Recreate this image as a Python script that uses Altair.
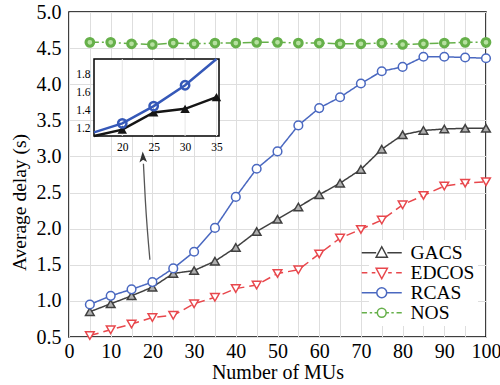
import altair as alt
import pandas as pd

# ---------------- data ----------------
mus = [5, 10, 15, 20, 25, 30, 35, 40, 45, 50, 55, 60, 65, 70, 75, 80, 85, 90, 95, 100]
gacs = [0.85, 0.96, 1.07, 1.19, 1.38, 1.42, 1.55, 1.74, 1.96, 2.13, 2.30, 2.47, 2.63, 2.82, 3.10, 3.30, 3.36, 3.38, 3.39, 3.39]
edcos = [0.52, 0.60, 0.68, 0.77, 0.80, 0.96, 1.05, 1.17, 1.22, 1.38, 1.43, 1.65, 1.87, 1.99, 2.12, 2.33, 2.46, 2.59, 2.63, 2.65]
rcas = [0.95, 1.07, 1.16, 1.26, 1.45, 1.68, 2.01, 2.44, 2.83, 3.07, 3.43, 3.67, 3.82, 4.01, 4.18, 4.24, 4.38, 4.38, 4.37, 4.36]
nos = [4.58, 4.58, 4.56, 4.55, 4.57, 4.56, 4.57, 4.57, 4.58, 4.58, 4.57, 4.57, 4.56, 4.56, 4.57, 4.55, 4.56, 4.57, 4.58, 4.58]

series_names = ["GACS", "EDCOS", "RCAS", "NOS"]
series_colors = ["#404040", "#e8474c", "#4a68c0", "#66b04a"]

x_ticks = list(range(0, 101, 5))
y_ticks = [0.5, 1.0, 1.5, 2.0, 2.5, 3.0, 3.5, 4.0, 4.5, 5.0]

inset_x_domain = [15.5, 35.4]
inset_y_domain = [1.12, 1.97]
inset_x_ticks = [20, 25, 30, 35]
inset_y_ticks = [1.2, 1.4, 1.6, 1.8]

arrow_x = [19.4, 18.3, 17.85]
arrow_y = [1.57, 2.40, 2.90]
arrow_tip_x = [17.75]
arrow_tip_y = [2.98]

# ---------------- tables ----------------
rows = []
for name, vals in zip(series_names, [gacs, edcos, rcas, nos]):
    for xv, yv in zip(mus, vals):
        rows.append({"mus": xv, "series": name, "delay": yv})
df = pd.DataFrame(rows)

FONT = "Liberation Serif"
W, H = 417, 325

x_enc = alt.X("mus:Q", scale=alt.Scale(domain=[0, 100], nice=False, zero=False),
              axis=alt.Axis(values=x_ticks, labelExpr="datum.value % 10 == 0 ? datum.label : ''",
                            title="Number of MUs", grid=True, ticks=False, domain=False,
                            labelFontSize=20, labelColor="black", labelPadding=4,
                            titleFontSize=20, titleFontWeight="normal",
                            titleColor="black", titlePadding=1,
                            gridColor="#dedede", gridWidth=1, labelFlush=False))
y_enc = alt.Y("delay:Q", scale=alt.Scale(domain=[0.5, 5.0], nice=False, zero=False),
              axis=alt.Axis(values=y_ticks, format=".1f", title="Average delay (s)", grid=True,
                            ticks=False, domain=False,
                            labelFontSize=20, labelColor="black", labelPadding=8,
                            titleFontSize=19.5, titleFontWeight="normal",
                            titleColor="black", titlePadding=7, titleY=190,
                            gridColor="#dedede", gridWidth=1, labelFlush=False))

styles = {
    "GACS": dict(dash=[1, 0], shape="triangle-up", fill="#b0b0b0", size=75),
    "EDCOS": dict(dash=[9, 5], shape="triangle-down", fill="white", size=75),
    "RCAS": dict(dash=[1, 0], shape="circle", fill="white", size=75),
    "NOS": dict(dash=[9, 3, 2, 3], shape="circle", fill="#b6e0a0", size=60),
}

main_layers = []
for name, color in zip(series_names, series_colors):
    st = styles[name]
    base = alt.Chart(df).transform_filter(alt.datum.series == name)
    main_layers.append(base.mark_line(color=color, strokeWidth=1.5, strokeDash=st["dash"])
                       .encode(x=x_enc, y=y_enc))
    main_layers.append(base.mark_point(shape=st["shape"], filled=True, fill=st["fill"],
                                       stroke=color, strokeWidth=1.5 if name != "NOS" else 3,
                                       size=st["size"], opacity=1)
                       .encode(x=x_enc, y=y_enc))

# arrow
arrow_df = pd.DataFrame({"mus": arrow_x, "delay": arrow_y, "o": [0, 1, 2]})
tip_df = pd.DataFrame({"mus": arrow_tip_x, "delay": arrow_tip_y})
main_layers.append(alt.Chart(arrow_df).mark_line(color="#555555", strokeWidth=1.3, interpolate="monotone")
                   .encode(x=x_enc, y=y_enc, order="o:Q"))
main_layers.append(alt.Chart(tip_df).mark_point(shape="M0,-1L0.6,0.7L0,0.3L-0.6,0.7Z", filled=True,
                                                color="#333333", size=160, angle=357, opacity=1)
                   .encode(x=x_enc, y=y_enc))

# legend (dummy invisible layer carrying line+marker symbols); path unit r = 8 px
legend_paths = [
    "M-2.5,0H-0.7M0.7,0H2.5M0,-0.75L0.7,0.55L-0.7,0.55Z",
    "M-2.5,0H-1.8M-1.25,0H-0.8M0.8,0H1.25M1.8,0H2.5M-0.7,-0.55L0.7,-0.55L0,0.75Z",
    "M-2.5,0H-0.62M0.62,0H2.5M0.62,0A0.62,0.62 0 1,1 -0.62,0A0.62,0.62 0 1,1 0.62,0Z",
    "M-2.5,0H-1.85M-1.5,0H-1.2M-0.9,0H-0.6M0.6,0H0.9M1.2,0H1.5M1.85,0H2.5M0.55,0A0.55,0.55 0 1,1 -0.55,0A0.55,0.55 0 1,1 0.55,0Z",
]
leg = dict(orient="none", legendX=300, legendY=228, title=None,
           labelFontSize=19.5, labelColor="black", labelOffset=19,
           symbolSize=256, symbolStrokeWidth=1.5, symbolFillColor="white", symbolOpacity=1,
           fillColor="white", padding=3, rowPadding=-1)
legend_df = pd.DataFrame({"series": series_names})
main_layers.append(alt.Chart(legend_df).mark_point(opacity=0, filled=False)
                   .encode(color=alt.Color("series:N", scale=alt.Scale(domain=series_names, range=series_colors),
                                           legend=alt.Legend(**leg)),
                           shape=alt.Shape("series:N", scale=alt.Scale(domain=series_names, range=legend_paths),
                                           legend=alt.Legend(**leg))))

main = alt.layer(*main_layers)

# ---------------- inset ----------------
inset_x_axis = alt.Axis(orient="bottom", offset=-(H - 124), values=inset_x_ticks, title=None, grid=False,
                        domain=False, ticks=False, labelFontSize=11.5, labelColor="black",
                        labelPadding=5)
inset_y_axis = alt.Axis(orient="left", offset=-25, values=inset_y_ticks, format=".1f", title=None, grid=False,
                        domain=False, ticks=False, labelFontSize=11.5, labelColor="black",
                        labelPadding=4)
isx = alt.Scale(domain=inset_x_domain, range=[25, 150], clamp=True, nice=False, zero=False)
isy = alt.Scale(domain=inset_y_domain, range=[124, 47], clamp=True, nice=False, zero=False)

def ix(field="mus"):
    return alt.X(f"{field}:Q", scale=isx, axis=inset_x_axis)

def iy(field="delay"):
    return alt.Y(f"{field}:Q", scale=isy, axis=inset_y_axis)

frame_df = pd.DataFrame({"mus": [inset_x_domain[0]], "x1": [inset_x_domain[1]],
                         "delay": [inset_y_domain[0]], "y1": [inset_y_domain[1]]})
frame = alt.Chart(frame_df).mark_rect(fill="white", stroke="black", strokeWidth=1.5).encode(
    x=ix(), x2="x1:Q", y=iy(), y2="y1:Q")

vgrid_df = pd.DataFrame({"mus": inset_x_ticks, "delay": [inset_y_domain[0]] * 4, "y1": [inset_y_domain[1]] * 4})
vgrid = alt.Chart(vgrid_df).mark_rule(color="#e6e6e6", strokeWidth=1).encode(x=ix(), y=iy(), y2="y1:Q")

inset_df = df[df["series"].isin(["GACS", "RCAS"]) & (df["mus"] >= 15) & (df["mus"] <= 35)]
inset_layers = [frame, vgrid]
for name, color, shape, filled in [("GACS", "#151515", "triangle-up", True), ("RCAS", "#3558b8", "circle", False)]:
    b = alt.Chart(inset_df).transform_filter(alt.datum.series == name)
    inset_layers.append(b.mark_line(color=color, strokeWidth=2.5).encode(x=ix(), y=iy()))
    pts = b.transform_filter((alt.datum.mus >= 20) & (alt.datum.delay <= inset_y_domain[1]))
    if filled:
        inset_layers.append(pts.mark_point(shape=shape, filled=True, color=color, size=90, opacity=1)
                            .encode(x=ix(), y=iy()))
    else:
        inset_layers.append(pts.mark_point(shape=shape, filled=False, color=color, strokeWidth=2.5, size=70, opacity=1)
                            .encode(x=ix(), y=iy()))

inset = alt.layer(*inset_layers)

chart = (alt.layer(main, inset)
         .resolve_scale(x="independent", y="independent")
         .properties(width=W, height=H,
                     autosize=alt.AutoSizeParams(type="none"),
                     padding={"left": 69, "top": 12, "right": 14, "bottom": 48},
                     background="white")
         .configure(font=FONT)
         .configure_axis(labelFont=FONT, titleFont=FONT)
         .configure_legend(labelFont=FONT)
         .configure_view(stroke="black", strokeWidth=1.5))

chart.save("out.html", embed_options={"renderer": "svg", "actions": False})
